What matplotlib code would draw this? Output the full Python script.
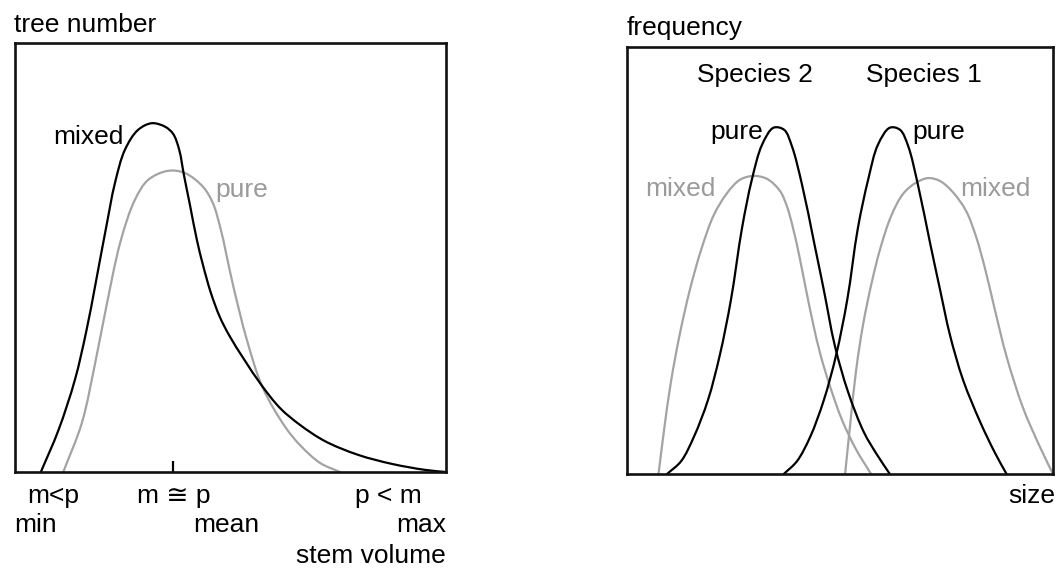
import matplotlib
matplotlib.use("Agg")
import matplotlib.pyplot as plt
import numpy as np
from matplotlib.path import Path
from matplotlib.patches import PathPatch

plt.rcParams['font.family'] = ['Liberation Sans', 'DejaVu Sans']

# ---- Left panel: tree number vs stem volume (relative units 0-100) ----
vol_mixed = [6.0, 10.1, 13.9, 16.6, 20.9, 23.2, 25.5, 28.5, 31.7, 34.8, 36.7, 38.1,
             39.2, 40.6, 42.2, 43.6, 45.4, 47.5, 49.9, 56.8, 61.5, 66.1, 71.9, 79.6,
             87.4, 95.1, 100.0]
trees_mixed = [0.0, 9.8, 21.5, 33.1, 55.7, 67.4, 75.1, 79.7, 81.3, 80.5, 78.8, 75.1,
               69.2, 62.2, 54.1, 48.3, 41.9, 36.2, 31.5, 20.8, 14.9, 11.0, 7.2, 4.0,
               1.9, 0.5, 0.0]

vol_pure = [11.2, 15.5, 18.6, 20.9, 24.5, 27.8, 30.9, 35.5, 39.4, 43.6, 45.9, 47.6,
            50.7, 53.8, 57.5, 62.7, 66.1, 70.8, 75.4]
trees_pure = [0.0, 11.4, 25.4, 37.1, 53.8, 63.4, 68.1, 70.2, 69.7, 66.5, 62.7, 57.1,
              43.1, 30.8, 19.6, 10.5, 6.3, 2.1, 0.0]

mean_volume = 36.7

# ---- Right panel: frequency vs size (relative units 0-100) ----
size_sp2_pure = [9.4, 12.7, 15.7, 19.0, 21.8, 24.4, 27.0, 29.3, 31.7, 34.4, 36.9,
                 38.7, 41.1, 43.9, 46.2, 48.8, 51.9, 55.6, 58.7, 61.7]
freq_sp2_pure = [0.0, 3.0, 8.7, 17.3, 27.9, 40.8, 57.6, 68.9, 77.1, 81.1, 80.6,
                 76.8, 67.7, 54.3, 43.1, 30.0, 19.2, 9.8, 4.5, 0.0]

size_sp1_pure = [36.8, 39.9, 43.0, 46.2, 49.1, 51.7, 54.2, 56.6, 58.9, 61.7, 64.1,
                 66.0, 68.3, 71.1, 73.5, 75.8, 78.9, 82.9, 86.4, 89.1]
freq_sp1_pure = [0.0, 3.0, 8.7, 17.3, 27.9, 40.8, 57.6, 68.9, 77.1, 81.1, 80.6,
                 76.8, 67.7, 54.3, 43.1, 32.6, 22.0, 12.2, 4.9, 0.0]

size_sp2_mixed = [7.4, 8.7, 10.3, 12.4, 14.8, 17.4, 20.4, 23.5, 26.5, 29.7, 32.9,
                  35.9, 37.5, 39.0, 40.5, 42.0, 43.6, 45.4, 47.7, 50.5, 53.8, 57.3]
freq_sp2_mixed = [0.0, 10.3, 21.5, 32.8, 43.3, 52.5, 60.7, 65.8, 68.9, 69.8, 69.1,
                  66.3, 62.8, 57.5, 50.8, 43.3, 35.6, 28.0, 20.4, 12.6, 5.7, 0.0]

size_sp1_mixed = [51.2, 52.4, 53.8, 55.4, 57.3, 59.4, 62.0, 64.8, 67.8, 70.7, 73.5,
                  76.5, 79.6, 81.9, 84.0, 86.2, 89.1, 93.0, 97.0, 100.0]
freq_sp1_mixed = [0.0, 11.7, 24.4, 34.9, 44.2, 52.6, 60.4, 65.6, 68.2, 69.3, 68.6,
                  66.0, 61.6, 55.7, 48.3, 39.1, 27.5, 15.4, 6.2, 0.0]

BLACK = "#000000"
GREY = "#a3a3a3"
TEXT_GREY = "#9a9a9a"
FS = 19
LW = 1.6

W, H = 1059, 568
fig = plt.figure(figsize=(W / 100, H / 100), dpi=100)


def px_axes(x0, y0, x1, y1):
    return fig.add_axes([x0 / W, 1 - y1 / H, (x1 - x0) / W, (y1 - y0) / H])


def label(x, y, s, color=BLACK, ha="left"):
    fig.text(x / W, 1 - y / H, s, color=color, fontsize=FS, ha=ha, va="baseline")


def style_box(ax):
    ax.set_xlim(0, 100)
    ax.set_ylim(0, 100)
    for sp in ax.spines.values():
        sp.set_linewidth(1.9)
        sp.set_color("#111111")
    ax.set_yticks([])


def smooth_curve(ax, xs, ys, color):
    """Draw a smooth curve through the points: centripetal Catmull-Rom
    segments expressed as cubic Beziers."""
    pts = np.column_stack([xs, ys]).astype(float)
    seg = np.diff(pts, axis=0)
    dt = np.sqrt(np.hypot(seg[:, 0], seg[:, 1]))
    n = len(pts)
    m = np.zeros_like(pts)
    m[0] = seg[0] / dt[0]
    m[-1] = seg[-1] / dt[-1]
    for i in range(1, n - 1):
        a, b = dt[i - 1], dt[i]
        m[i] = seg[i - 1] / a - (pts[i + 1] - pts[i - 1]) / (a + b) + seg[i] / b
    verts = [pts[0]]
    codes = [Path.MOVETO]
    for i in range(n - 1):
        verts += [pts[i] + m[i] * dt[i] / 3.0,
                  pts[i + 1] - m[i + 1] * dt[i] / 3.0,
                  pts[i + 1]]
        codes += [Path.CURVE4] * 3
    patch = PathPatch(Path(verts, codes), facecolor="none", edgecolor=color,
                      lw=LW, capstyle="round", joinstyle="round", clip_on=False)
    ax.add_patch(patch)


# Left panel
axL = px_axes(15, 43, 446, 472)
style_box(axL)
smooth_curve(axL, vol_pure, trees_pure, GREY)
smooth_curve(axL, vol_mixed, trees_mixed, BLACK)
axL.set_xticks([mean_volume])
axL.set_xticklabels([])
axL.tick_params(axis="x", direction="in", length=8, width=1.6, color=BLACK)

label(14, 31.5, "tree number")
label(53, 144, "mixed")
label(215, 197, "pure", color=TEXT_GREY)
label(27, 503, "m<p")
label(137, 503, "m \u2245 p")
label(355, 503, "p < m")
label(14, 532, "min")
label(193, 532, "mean")
label(446, 532, "max", ha="right")
label(446, 563, "stem volume", ha="right")

# Right panel
axR = px_axes(627, 47, 1053, 474)
style_box(axR)
axR.set_xticks([])
smooth_curve(axR, size_sp2_mixed, freq_sp2_mixed, GREY)
smooth_curve(axR, size_sp1_mixed, freq_sp1_mixed, GREY)
smooth_curve(axR, size_sp2_pure, freq_sp2_pure, BLACK)
smooth_curve(axR, size_sp1_pure, freq_sp1_pure, BLACK)

label(627, 34.5, "frequency")
label(697, 82, "Species 2")
label(866, 82, "Species 1")
label(710, 139, "pure")
label(645, 196, "mixed", color=TEXT_GREY)
label(912, 139, "pure")
label(960, 196, "mixed", color=TEXT_GREY)
label(1055, 503, "size", ha="right")

fig.savefig("out.png", dpi=100)
